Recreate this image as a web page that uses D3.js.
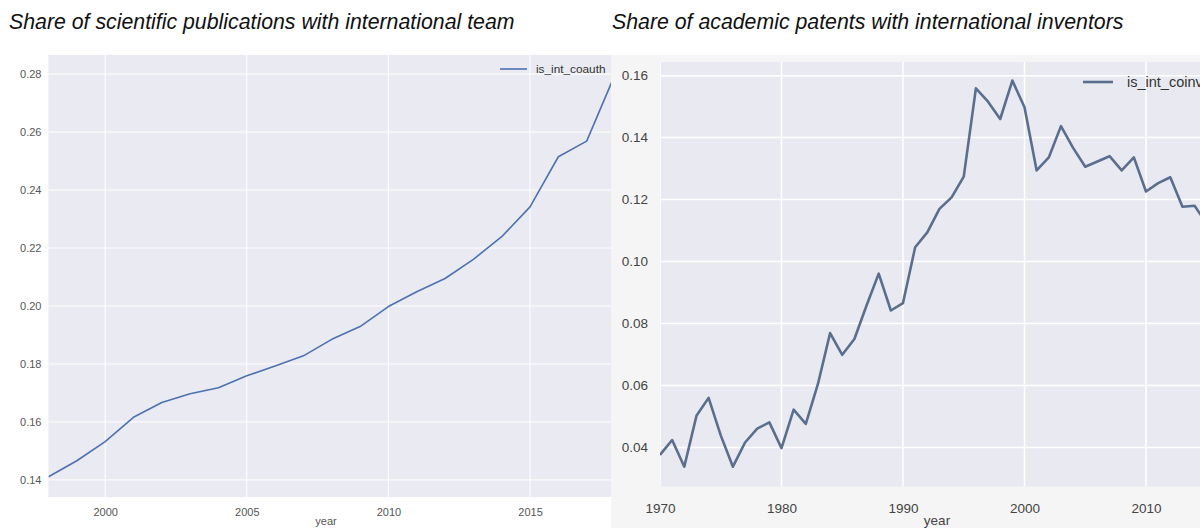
<!DOCTYPE html>
<html>
<head>
<meta charset="utf-8">
<script src="https://cdn.jsdelivr.net/npm/d3@7"></script>
<style>
	body { margin: 0; background: #ffffff; }
	svg { display: block; font-family: "Liberation Sans", Arial, sans-serif; }
</style>
</head>
<body>
<div id="chart"></div>
<script>

//----------------------------
// Data
//----------------------------

var pubYears = [1998, 1999, 2000, 2001, 2002, 2003, 2004, 2005, 2006, 2007,
	2008, 2009, 2010, 2011, 2012, 2013, 2014, 2015, 2016, 2017, 2018];
var pubShare = [0.1411, 0.1466, 0.1532, 0.1616, 0.1667, 0.1697, 0.1718, 0.1759, 0.1793, 0.1828,
	0.1885, 0.1929, 0.1998, 0.2049, 0.2095, 0.2161, 0.2239, 0.2342, 0.2515, 0.2569, 0.2799];

var patYears = [1970, 1971, 1972, 1973, 1974, 1975, 1976, 1977, 1978, 1979,
	1980, 1981, 1982, 1983, 1984, 1985, 1986, 1987, 1988, 1989,
	1990, 1991, 1992, 1993, 1994, 1995, 1996, 1997, 1998, 1999,
	2000, 2001, 2002, 2003, 2004, 2005, 2006, 2007, 2008, 2009,
	2010, 2011, 2012, 2013, 2014, 2015];
var patShare = [0.0376, 0.0424, 0.0338, 0.0502, 0.0560, 0.0439, 0.0338, 0.0416, 0.0461, 0.0481,
	0.0398, 0.0522, 0.0476, 0.0605, 0.0769, 0.0699, 0.0750, 0.0858, 0.0961, 0.0842,
	0.0866, 0.1046, 0.1094, 0.1170, 0.1207, 0.1274, 0.1559, 0.1516, 0.1460, 0.1584,
	0.1498, 0.1294, 0.1336, 0.1437, 0.1367, 0.1306, 0.1323, 0.1340, 0.1294, 0.1336,
	0.1226, 0.1253, 0.1272, 0.1177, 0.1180, 0.1122];

var pubXTicks = [2000, 2005, 2010, 2015];
var pubYTicks = [0.14, 0.16, 0.18, 0.20, 0.22, 0.24, 0.26, 0.28];
var patXTicks = [1970, 1980, 1990, 2000, 2010];
var patYTicks = [0.04, 0.06, 0.08, 0.10, 0.12, 0.14, 0.16];

var titles = ["Share of scientific publications with international team",
	"Share of academic patents with international inventors"];
var seriesNames = ["is_int_coauth", "is_int_coinv"];

//----------------------------
// Canvas
//----------------------------

var totwidth = 1200,
	totheight = 528;

var svg = d3.select("#chart").append("svg")
	.attr("width", totwidth)
	.attr("height", totheight);

svg.append("rect")
	.attr("width", totwidth)
	.attr("height", totheight)
	.attr("fill", "#ffffff");

// Generic panel drawing routine (seaborn darkgrid look)

function panel(opt) {

	var g = svg.append("g");

	var x = d3.scaleLinear().domain(opt.xdom).range(opt.xrange);
	var y = d3.scaleLinear().domain(opt.ydom).range(opt.yrange);

	var left = opt.xrange[0], right = opt.xrange[1],
		top = opt.yrange[1], bottom = opt.yrange[0];

	// Figure background

	if (opt.figbg) {
		g.append("rect")
			.attr("x", opt.figbg[0])
			.attr("y", opt.figbg[1])
			.attr("width", opt.figbg[2])
			.attr("height", opt.figbg[3])
			.attr("fill", opt.figfill);
	}

	// Plot area

	var clipId = "clip" + opt.id;
	g.append("clipPath")
		.attr("id", clipId)
		.append("rect")
			.attr("x", left)
			.attr("y", top)
			.attr("width", Math.min(right, opt.clipright) - left)
			.attr("height", bottom - top);

	g.append("rect")
		.attr("x", left)
		.attr("y", top)
		.attr("width", Math.min(right, opt.clipright) - left)
		.attr("height", bottom - top)
		.attr("fill", opt.plotfill);

	// Grid lines

	var grid = g.append("g").attr("clip-path", "url(#" + clipId + ")");

	grid.selectAll("line.gx")
		.data(opt.xticks)
		.enter().append("line")
			.attr("x1", function(d) { return x(d); })
			.attr("x2", function(d) { return x(d); })
			.attr("y1", top)
			.attr("y2", bottom)
			.attr("stroke", "#ffffff")
			.attr("stroke-width", opt.gridw);

	grid.selectAll("line.gy")
		.data(opt.yticks)
		.enter().append("line")
			.attr("x1", left)
			.attr("x2", right)
			.attr("y1", function(d) { return y(d); })
			.attr("y2", function(d) { return y(d); })
			.attr("stroke", "#ffffff")
			.attr("stroke-width", opt.gridw);

	// Axes (labels only, seaborn has no tick marks)

	var xAxis = d3.axisBottom(x).tickValues(opt.xticks).tickSize(0).tickPadding(opt.xpad)
		.tickFormat(d3.format("d"));
	var yAxis = d3.axisLeft(y).tickValues(opt.yticks).tickSize(0).tickPadding(opt.ypad)
		.tickFormat(d3.format(".2f"));

	var gx = g.append("g")
		.attr("transform", "translate(0," + bottom + ")")
		.call(xAxis);
	var gy = g.append("g")
		.attr("transform", "translate(" + left + ",0)")
		.call(yAxis);

	[gx, gy].forEach(function(a) {
		a.select(".domain").remove();
		a.selectAll("text")
			.attr("fill", opt.tickcol)
			.style("font-size", opt.fs + "px")
			.style("font-family", "'Liberation Sans', Arial, sans-serif");
	});

	g.append("text")
		.attr("x", opt.xlabel[0])
		.attr("y", opt.xlabel[1])
		.attr("text-anchor", "middle")
		.attr("fill", opt.tickcol)
		.style("font-size", opt.fs + "px")
		.text("year");

	// Series line

	var line = d3.line()
		.x(function(d) { return x(d[0]); })
		.y(function(d) { return y(d[1]); });

	grid.append("path")
		.datum(d3.zip(opt.years, opt.values))
		.attr("d", line)
		.attr("fill", "none")
		.attr("stroke", opt.color)
		.attr("stroke-width", opt.linew)
		.attr("stroke-linejoin", "round");

	// Legend

	var lg = g.append("g")
		.attr("transform", "translate(" + opt.legend[0] + "," + opt.legend[1] + ")");
	lg.append("line")
		.attr("x1", 0)
		.attr("x2", opt.legend[2])
		.attr("stroke", opt.color)
		.attr("stroke-width", opt.linew);
	lg.append("text")
		.attr("x", opt.legend[2] + opt.legend[3])
		.attr("dy", "0.35em")
		.attr("fill", "#333333")
		.style("font-size", opt.legfs + "px")
		.text(opt.name);

	// Title

	svg.append("text")
		.attr("x", opt.title[0])
		.attr("y", opt.title[1])
		.attr("fill", "#111111")
		.style("font-size", "21.3px")
		.style("font-style", "italic")
		.text(opt.titletext);
}

//----------------------------
// Left panel: publications
//----------------------------

panel({
	id: 1,
	xdom: [1998, 2018], xrange: [48.5, 615],
	ydom: [0.1341, 0.2866], yrange: [497, 55],
	clipright: 611,
	plotfill: "#eaeaf2",
	gridw: 1,
	xticks: pubXTicks, yticks: pubYTicks,
	xpad: 11, ypad: 7,
	tickcol: "#555555", fs: 11, legfs: 11.8,
	xlabel: [326, 525],
	years: pubYears, values: pubShare,
	color: "#4c72b0", linew: 1.6,
	legend: [500, 69, 27, 9],
	name: seriesNames[0],
	title: [9, 29], titletext: titles[0]
});

//----------------------------
// Right panel: patents
//----------------------------

panel({
	id: 2,
	xdom: [1970, 2015], xrange: [660, 1206.75],
	ydom: [0.0274, 0.1644], yrange: [486.5, 62],
	clipright: 1200,
	figbg: [611, 55, 589, 473], figfill: "#f5f5f5",
	plotfill: "#e9eaf1",
	gridw: 1.5,
	xticks: patXTicks, yticks: patYTicks,
	xpad: 17, ypad: 12,
	tickcol: "#444444", fs: 13.5, legfs: 14.5,
	xlabel: [937, 525],
	years: patYears, values: patShare,
	color: "#5a6e8d", linew: 2.6,
	legend: [1083, 82, 30, 14],
	name: seriesNames[1],
	title: [612, 29], titletext: titles[1]
});

</script>
</body>
</html>
